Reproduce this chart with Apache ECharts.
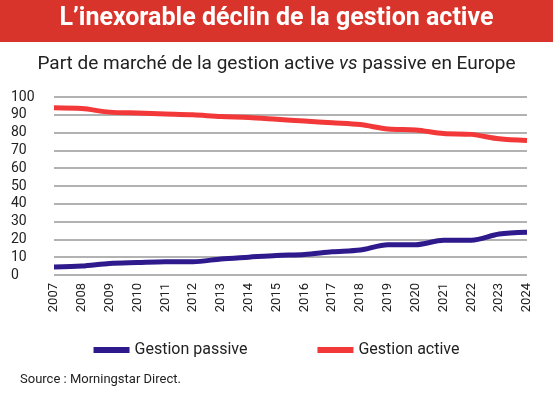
<!DOCTYPE html>
<html><head><meta charset="utf-8">
<script src="https://cdn.jsdelivr.net/npm/echarts@6/dist/echarts.min.js"></script>
<style>body{margin:0;background:#fff}#c{width:553px;height:401px}</style>
</head><body><div id="c"></div>
<script>
// données
const years = ['2007','2008','2009','2010','2011','2012','2013','2014','2015','2016','2017','2018','2019','2020','2021','2022','2023','2024']
const passive = [4.5,5,6.5,7,7.5,7.5,9,10,11,11.5,13,14,17,17,19.5,19.5,23,24]
const active = [94,93.5,91.5,91,90.5,90,89,88.5,87.5,86.5,85.5,84.5,82,81.5,79.5,79,76.5,75.5]

const chart = echarts.init(document.getElementById('c'))
chart.setOption({
  animation: false,
  textStyle: { fontFamily: 'Roboto' },
  graphic: [
    { type: 'rect', left: 0, top: 0, shape: { width: 553, height: 42 }, style: { fill: '#d9342b' } },
    { type: 'text', left: 'center', top: 6, style: { text: 'L’inexorable déclin de la gestion active', fill: '#fff', font: 'bold 25px "Liberation Sans Narrow", Roboto' } },
    { type: 'text', left: 'center', top: 55, style: {
      text: 'Part de marché de la gestion active {i|vs} passive en Europe', fill: '#222', font: '19px "Liberation Sans Narrow", Roboto',
      rich: { i: { fontStyle: 'italic', fontSize: 19, fontFamily: '"Liberation Sans Narrow", Roboto', fill: '#222' } }
    } },
    { type: 'text', left: 20, top: 373, style: { text: 'Source : Morningstar Direct.', fill: '#222', font: '13px "Liberation Sans Narrow", Roboto' } }
  ],
  legend: {
    bottom: 38, left: 'center', itemGap: 70, itemWidth: 36, itemHeight: 6,
    icon: 'rect', textStyle: { fontSize: 16, color: '#222', fontFamily: '"Liberation Sans Narrow", Roboto' },
    data: ['Gestion passive', 'Gestion active']
  },
  grid: { left: 54, right: 26, top: 97, bottom: 126 },
  xAxis: {
    type: 'category', data: years, boundaryGap: false,
    axisLine: { show: false }, axisTick: { show: false },
    axisLabel: { rotate: 90, color: '#222', fontSize: 13, margin: 8, fontFamily: '"Liberation Sans Narrow", Roboto' }
  },
  yAxis: {
    type: 'value', min: 0, max: 100, interval: 10,
    axisLabel: { color: '#222', fontSize: 14, margin: 43, align: 'left', fontFamily: '"Liberation Sans Narrow", Roboto' },
    splitLine: { lineStyle: { color: '#999', width: 1.5 } }
  },
  series: [
    { name: 'Gestion passive', type: 'line', data: passive, smooth: 0.3, symbol: 'none', color: '#2e1a8c', lineStyle: { width: 5 } },
    { name: 'Gestion active', type: 'line', data: active, smooth: 0.3, symbol: 'none', color: '#f23838', lineStyle: { width: 5 } }
  ]
})
</script></body></html>
